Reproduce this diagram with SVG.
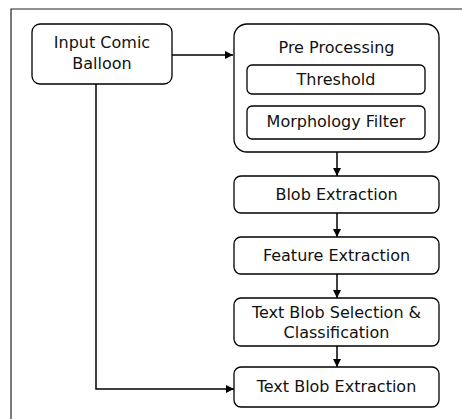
<svg xmlns="http://www.w3.org/2000/svg" width="462" height="419" viewBox="0 0 462 419">
<style>
.box{fill:#fff;stroke:#000;stroke-width:1.3}
.t{font-family:"DejaVu Sans",Verdana,sans-serif;font-size:16px;fill:#111;text-anchor:middle}
.c{fill:none;stroke:#000;stroke-width:1.5}
.frame{fill:none;stroke:#222;stroke-width:1.2}
</style>
<defs>
<marker id="ah" markerWidth="8" markerHeight="8" refX="8" refY="4" orient="auto" markerUnits="userSpaceOnUse">
<path d="M0,0 L8,4 L0,8 Z" fill="#000"/>
</marker>
</defs>
<rect width="462" height="419" fill="#fff"/>
<path class="frame" d="M11,419 V9 H462"/>
<g id="input">
<rect class="box" x="32" y="24" width="140" height="60" rx="8"/>
<text class="t" x="102" y="48">Input Comic</text>
<text class="t" x="102" y="69">Balloon</text>
</g>
<g id="preprocessing">
<rect class="box" x="234" y="24" width="205" height="128" rx="13"/>
<text class="t" x="336.5" y="53">Pre Processing</text>
</g>
<g id="threshold">
<rect class="box" x="247" y="65" width="178" height="29" rx="5"/>
<text class="t" x="336" y="85">Threshold</text>
</g>
<g id="morphology">
<rect class="box" x="247" y="106" width="178" height="33" rx="5"/>
<text class="t" x="336" y="127">Morphology Filter</text>
</g>
<g id="blob">
<rect class="box" x="234" y="176" width="205" height="37" rx="7"/>
<text class="t" x="336.5" y="200">Blob Extraction</text>
</g>
<g id="feature">
<rect class="box" x="234" y="237" width="205" height="37" rx="7"/>
<text class="t" x="336.5" y="261">Feature Extraction</text>
</g>
<g id="selection">
<rect class="box" x="234" y="298" width="205" height="48" rx="7"/>
<text class="t" x="336.5" y="318">Text Blob Selection &amp;</text>
<text class="t" x="336.5" y="338">Classification</text>
</g>
<g id="textblob">
<rect class="box" x="234" y="367" width="205" height="40" rx="7"/>
<text class="t" x="336.5" y="392">Text Blob Extraction</text>
</g>
<g id="connectors">
<path class="c" d="M172,55 H233" marker-end="url(#ah)"/>
<path class="c" d="M337,152 V176" marker-end="url(#ah)"/>
<path class="c" d="M337,213 V237" marker-end="url(#ah)"/>
<path class="c" d="M337,274 V298" marker-end="url(#ah)"/>
<path class="c" d="M337,346 V367" marker-end="url(#ah)"/>
<path class="c" d="M96,84 V389 H234" marker-end="url(#ah)"/>
</g>
</svg>
